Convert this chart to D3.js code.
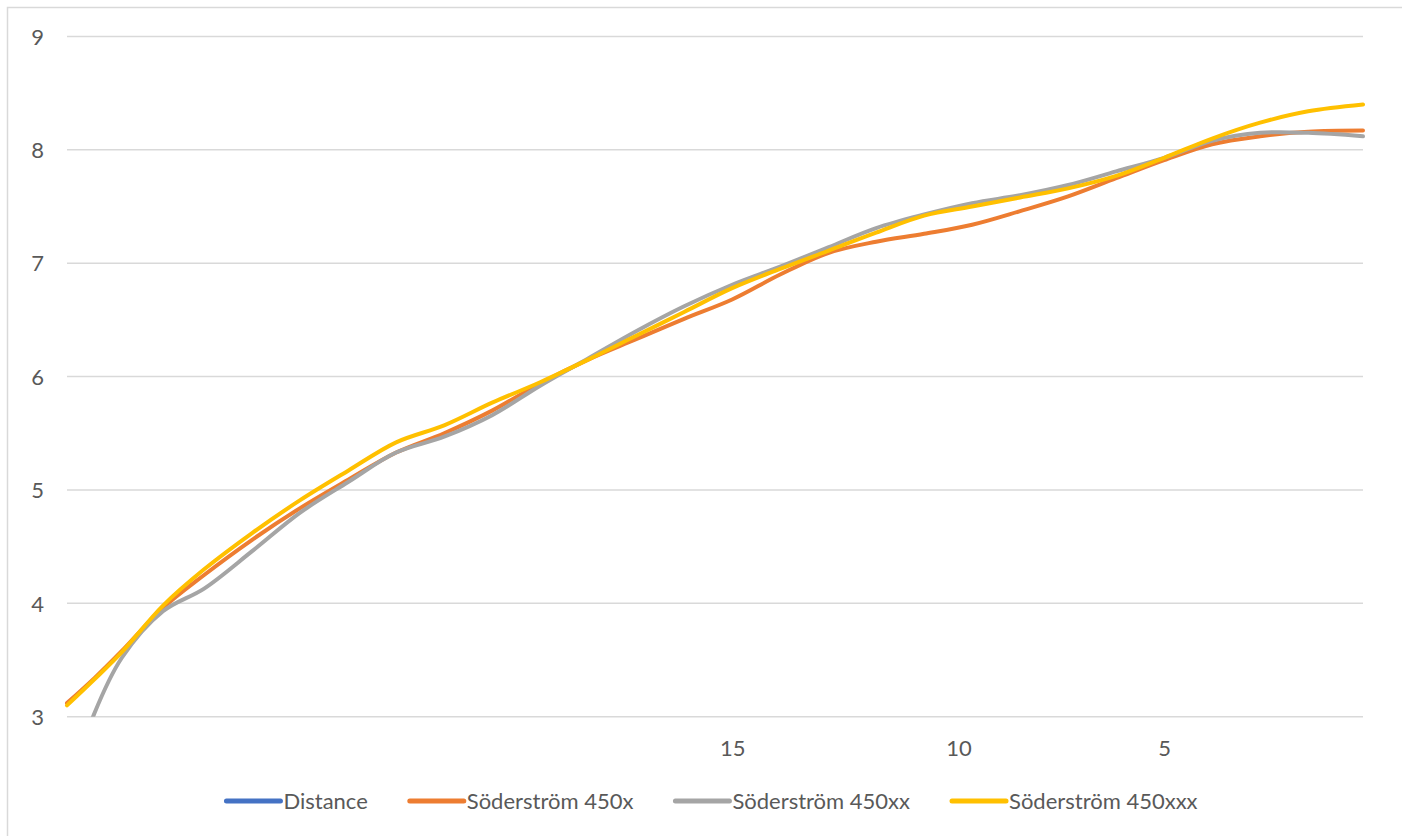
<!DOCTYPE html>
<html>
<head>
<meta charset="utf-8">
<script src="https://cdn.jsdelivr.net/npm/d3@7"></script>
<style>
  html, body { margin: 0; padding: 0; background: #fff; }
  svg { display: block; }
  text { font-family: Lato, "Open Sans", sans-serif; fill: #595959; }
</style>
</head>
<body>
<svg id="chart" width="1402" height="836"></svg>
<script>
// ---- data ----
const categoryCount = 190;                 // number of x categories
const tickIndex = [97, 130, 160];          // categories that carry a label
const tickLabels = ["15", "10", "5"];
const yTicks = [3, 4, 5, 6, 7, 8, 9];

const sampleIndex = [0, 4, 8, 14, 20, 27, 34, 41, 48, 55, 62, 69, 76, 83, 90, 97, 104, 111, 118, 125, 132, 139, 146, 153, 160, 167, 174, 181, 189];

const seriesNames = ["Distance", "Söderström 450x", "Söderström 450xx", "Söderström 450xxx"];
const seriesColors = ["#4472C4", "#ED7D31", "#A5A5A5", "#FFC000"];

const distance = []; // plotted outside the visible value range
const soderstrom450x = [3.12, 3.34, 3.58, 3.96, 4.25, 4.56, 4.84, 5.09, 5.33, 5.50, 5.70, 5.94, 6.15, 6.33, 6.51, 6.68, 6.90, 7.09, 7.19, 7.26, 7.34, 7.46, 7.59, 7.75, 7.91, 8.05, 8.12, 8.16, 8.17];
const soderstrom450xx = [2.30, 3.03, 3.52, 3.93, 4.13, 4.46, 4.80, 5.07, 5.33, 5.47, 5.66, 5.92, 6.16, 6.40, 6.62, 6.81, 6.97, 7.14, 7.31, 7.43, 7.53, 7.60, 7.69, 7.81, 7.93, 8.08, 8.15, 8.15, 8.12];
const soderstrom450xxx = [3.10, 3.33, 3.57, 3.98, 4.30, 4.62, 4.91, 5.17, 5.42, 5.57, 5.77, 5.95, 6.15, 6.36, 6.57, 6.78, 6.95, 7.11, 7.27, 7.42, 7.50, 7.58, 7.66, 7.77, 7.93, 8.10, 8.24, 8.34, 8.40];

const seriesValues = [distance, soderstrom450x, soderstrom450xx, soderstrom450xxx];

// ---- layout ----
const W = 1402, H = 836;
const plot = { left: 67, right: 1363, top: 36.5, bottom: 716.7 };
const fontSize = 22;

const svg = d3.select("#chart");

// chart border
svg.append("rect")
  .attr("x", 7.5).attr("y", 7.5)
  .attr("width", W).attr("height", H)
  .attr("fill", "none").attr("stroke", "#d9d9d9").attr("stroke-width", 1.5);

const x = d3.scaleLinear().domain([0, categoryCount - 1]).range([plot.left, plot.right]);
const y = d3.scaleLinear().domain([3, 9]).range([plot.bottom, plot.top]);

// gridlines
svg.append("g").selectAll("line").data(yTicks).join("line")
  .attr("x1", plot.left).attr("x2", plot.right)
  .attr("y1", d => y(d)).attr("y2", d => y(d))
  .attr("stroke", "#d9d9d9").attr("stroke-width", 1.5);

// y axis labels
const yAxis = d3.axisLeft(y).tickValues(yTicks).tickSize(0).tickPadding(0).tickFormat(d3.format("d"));
const gy = svg.append("g").attr("transform", `translate(44,0)`).call(yAxis);
gy.select(".domain").remove();
gy.selectAll("text").attr("font-size", fontSize).attr("font-family", "Lato").attr("fill", "#595959").attr("dy", "0.35em");

// x axis labels
const xAxis = d3.axisBottom(x).tickValues(tickIndex).tickSize(0).tickPadding(0)
  .tickFormat((d, i) => tickLabels[i]);
const gx = svg.append("g").attr("transform", `translate(0,748)`).call(xAxis);
gx.select(".domain").remove();
gx.selectAll("text").attr("font-size", fontSize).attr("font-family", "Lato").attr("fill", "#595959").attr("dy", "0.35em");

// clip
svg.append("clipPath").attr("id", "plotclip").append("rect")
  .attr("x", plot.left - 3).attr("y", plot.top - 3)
  .attr("width", plot.right - plot.left + 6).attr("height", plot.bottom - plot.top + 3);

const line = d3.line()
  .x(d => x(d[0]))
  .y(d => y(d[1]))
  .curve(d3.curveCatmullRom.alpha(0.5));

const gLines = svg.append("g").attr("clip-path", "url(#plotclip)");
seriesValues.forEach((vals, si) => {
  if (!vals.length) return;
  const pts = vals.map((v, i) => [sampleIndex[i], v]);
  gLines.append("path")
    .attr("d", line(pts))
    .attr("fill", "none")
    .attr("stroke", seriesColors[si])
    .attr("stroke-width", 4)
    .attr("stroke-linecap", "round")
    .attr("stroke-linejoin", "round");
});

// legend
const legend = svg.append("g");
const symLen = 54, symGap = 3, itemGap = 42, legendY = 801;
const items = seriesNames.map((name, i) => {
  const g = legend.append("g");
  g.append("line").attr("x1", 0).attr("x2", symLen).attr("y1", 0).attr("y2", 0)
    .attr("stroke", seriesColors[i]).attr("stroke-width", 5).attr("stroke-linecap", "round");
  const t = g.append("text").attr("x", symLen + symGap).attr("y", 0).attr("dy", "0.35em")
    .attr("font-size", fontSize).text(name);
  return { g, w: symLen + symGap + t.node().getComputedTextLength() };
});
const total = d3.sum(items, d => d.w) + itemGap * (items.length - 1);
let cx = 712 - total / 2;
items.forEach(it => {
  it.g.attr("transform", `translate(${cx},${legendY})`);
  cx += it.w + itemGap;
});
</script>
</body>
</html>
